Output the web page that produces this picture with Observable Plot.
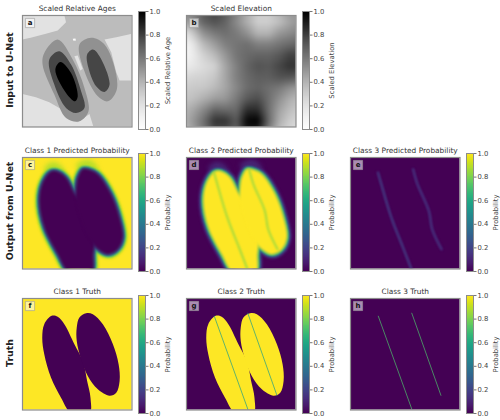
<!DOCTYPE html>
<html><head><meta charset="utf-8">
<script src="https://cdn.jsdelivr.net/npm/d3@7"></script>
<script src="https://cdn.jsdelivr.net/npm/@observablehq/plot@0.6"></script>
<style>
html,body{margin:0;background:#fff}
#root{position:relative;width:500px;height:420px;overflow:hidden;font-family:"DejaVu Sans",sans-serif}
#root>div,#root>svg{position:absolute}
.aa{filter:blur(.35px)}
.soft{filter:blur(.8px)}
.softer{filter:blur(1.1px)}
.smudge{filter:blur(2.5px)}
.terrain{filter:blur(2px)}
.row{font-weight:bold;font-size:9.4px;color:#222;white-space:nowrap;transform:translate(-50%,-50%) rotate(-90deg)}
</style></head><body><div id="root"></div>
<script>
// panel text
const titles = ["Scaled Relative Ages","Scaled Elevation","Class 1 Predicted Probability","Class 2 Predicted Probability","Class 3 Predicted Probability","Class 1 Truth","Class 2 Truth","Class 3 Truth"];
const letters = ["a","b","c","d","e","f","g","h"];
const rowLabels = ["Input to U-Net","Output from U-Net","Truth"];
const barLabels = ["Scaled Relative Age","Scaled Elevation","Probability"];
const barTicks = [0,0.2,0.4,0.6,0.8,1];

// panel a: contour bands (grid units of the panel, 327 x 334)
const ageLightTL = [[0,0],[125,0],[130,20],[105,45],[70,55],[30,65],[0,72]];
const ageLightBL = [[0,235],[40,245],[80,260],[115,280],[135,305],[165,320],[200,295],[212,334],[0,334]];
const ageLightR = [[245,72],[280,65],[327,55],[327,195],[290,195],[280,170],[265,110]];
const ageLeftOuter = [[65,112],[105,72],[150,132],[185,217],[197,287],[170,317],[130,307],[95,237],[60,147]];
const ageLeftDark = [[80,132],[110,107],[145,147],[175,227],[185,277],[160,292],[130,277],[95,207]];
const ageLeftCore = [[98,162],[113,139],[145,172],[165,242],[157,257],[130,232]];
const ageRightOuter = [[170,87],[205,67],[245,87],[280,177],[280,227],[255,257],[225,242],[185,167]];
const ageRightDark = [[193,117],[210,102],[230,122],[260,207],[245,229],[220,212],[197,157]];
const ageStrip = [[155,122],[165,120],[180,160],[172,165]];
const ageDot = [[150,70],[158,69],[160,75],[152,76]];

// panel b: elevation read on a 12 x 12 grid
const elevation = [
 .55,.6,.74,.8,.72,.58,.42,.3,.3,.4,.5,.5,
 .42,.52,.68,.74,.68,.54,.42,.3,.3,.36,.46,.52,
 .12,.32,.52,.6,.64,.6,.52,.4,.4,.5,.54,.58,
 .02,.17,.38,.48,.58,.62,.64,.58,.58,.62,.66,.68,
 .02,.14,.28,.38,.5,.62,.66,.68,.68,.72,.8,.78,
 .12,.17,.23,.28,.45,.58,.68,.74,.72,.78,.84,.82,
 .22,.27,.28,.33,.45,.58,.66,.7,.7,.74,.74,.68,
 .3,.32,.33,.38,.45,.55,.65,.68,.64,.6,.52,.47,
 .33,.36,.42,.48,.5,.6,.72,.76,.64,.52,.42,.36,
 .38,.45,.55,.68,.66,.66,.86,.86,.64,.46,.36,.3,
 .38,.5,.64,.84,.84,.72,.98,1,.66,.42,.3,.25,
 .35,.46,.6,.74,.74,.68,.9,.88,.56,.35,.25,.2];

// predicted blobs (panels c, d)
const predLeft = [[85,42],[60,75],[50,130],[65,210],[105,290],[140,345],[207,345],[212,290],[215,250],[205,200],[180,145],[157,110],[130,60],[105,42]];
const predRight = [[180,35],[165,60],[160,90],[160,130],[185,215],[205,250],[225,275],[255,290],[285,275],[300,240],[290,180],[265,110],[225,50],[195,35]];
const smudgeLeft = [[65,35],[85,15],[110,20],[125,45],[90,50]];
const smudgeRight = [[160,25],[180,10],[205,10],[225,35],[185,45]];
const haloWidths = [10,6.5,3.8,1.6];
const haloC = [.93,.72,.42,.15];
const haloD = [.07,.25,.55,.82];

// predicted faults (panels d, e)
const faultLeftPred = [[82,45],[92,80],[122,180],[157,270],[179,327],[184,340]];
const faultRightPred = [[187,35],[200,80],[234,160],[244,215],[272,275]];

// truth ellipses and faults (panels f, g, h)
const truthLeft = [[87,52],[65,77],[59,117],[65,167],[85,237],[115,297],[147,345],[200,345],[203,297],[193,247],[181,190],[155,137],[125,77],[105,55]];
const truthRight = [[190,44],[170,57],[162,87],[162,127],[175,182],[195,232],[225,272],[260,291],[280,282],[290,247],[287,197],[270,137],[240,77],[210,47]];
const faultLeft = [[83,53],[184,334]];
const faultRight = [[183,44],[270,290]];

const root = document.getElementById("root");
const greys = {type:"linear",scheme:"greys",domain:[0,1]};
const viridis = {type:"linear",scheme:"viridis",domain:[0,1]};
const X = d=>d[0], Y = d=>d[1];

const bg = v => Plot.rect([v],{x1:0,x2:327,y1:0,y2:334,fill:d=>d});
const blob = (ring,v,cls="aa") => Plot.line(ring,{x:X,y:Y,fill:()=>v,stroke:"none",curve:"catmull-rom-closed",clip:true,className:cls});
const poly = (ring,v) => Plot.line(ring,{x:X,y:Y,fill:()=>v,stroke:"none",curve:"linear-closed",clip:true,className:"aa"});
const halo = (ring,w,v,cls) => Plot.line(ring,{x:X,y:Y,stroke:()=>v,strokeWidth:w,curve:"catmull-rom-closed",clip:true,className:cls});
const fault = (pts,v,w,cls="aa",op=1) => Plot.line(pts,{x:X,y:Y,stroke:()=>v,strokeWidth:w,strokeOpacity:op,clip:true,curve:"catmull-rom",className:cls});

function panel(i,left,top,w,h,color,marks){
  const mt=13;
  const p=Plot.plot({width:w,height:h+mt,marginTop:mt,marginLeft:0,marginRight:0,marginBottom:0,
    x:{domain:[0,327],axis:null},y:{domain:[334,0],axis:null},color,
    style:{background:"transparent",overflow:"visible",fontFamily:"DejaVu Sans",fontSize:"7.4px"},
    marks:[...marks,
      Plot.frame({stroke:"#8c8c8c",strokeWidth:1.2}),
      Plot.dot([0],{frameAnchor:"top-left",dx:7.5,dy:7.5,symbol:"square",r:5.2,fill:"white",fillOpacity:.55,stroke:"#999",strokeWidth:.6}),
      Plot.text([letters[i]],{frameAnchor:"top-left",dx:7.5,dy:7.5,fontWeight:"bold",fontSize:7,fill:"#111",textAnchor:"middle",lineAnchor:"middle"}),
      Plot.text([titles[i]],{frameAnchor:"top",dy:-6.5,fontSize:7.4,fill:"#333",lineAnchor:"middle"})
    ]});
  p.style.left=left+"px";p.style.top=(top-mt)+"px";root.appendChild(p);
}
function colorbar(left,top,h,color,label){
  const w=7;
  const p=Plot.plot({width:w+35,height:h,marginTop:0,marginBottom:0,marginLeft:0,marginRight:35,
    x:{domain:[0,1],axis:null},y:{domain:[0,1]},color,
    style:{background:"transparent",overflow:"visible",fontFamily:"DejaVu Sans",fontSize:"6.8px"},
    marks:[
      Plot.raster({x1:0,x2:1,y1:0,y2:1,width:1,height:120,fill:(x,y)=>y}),
      Plot.frame({stroke:"#8c8c8c",strokeWidth:1}),
      Plot.axisY({anchor:"right",ticks:barTicks,tickFormat:d3.format(".1f"),tickSize:2.5,tickPadding:1.5,stroke:"#777",fill:"#444",
        label,labelAnchor:"center",labelArrow:"none",labelOffset:24,fontSize:6.8})
    ]});
  p.style.left=left+"px";p.style.top=top+"px";root.appendChild(p);
}

const colA=22, colB=185.5, colC=349.5, W=109.5;
const rowY=[14.5,157,298], H=111.5;
const barX=[138,302,466], barTop=[11,153,294.5], barH=118;

// a
panel(0,colA,rowY[0],W,H,greys,[bg(.37),poly(ageLightTL,.2),poly(ageLightBL,.2),poly(ageLightR,.2),
  blob(ageLeftOuter,.52),blob(ageRightOuter,.52),poly(ageStrip,.2),poly(ageDot,.05),
  blob(ageLeftDark,.78),blob(ageRightDark,.78),blob(ageLeftCore,1)]);
colorbar(barX[0],barTop[0],barH,greys,barLabels[0]);
// b
panel(1,colB,rowY[0],W,H,greys,[bg(.5),Plot.raster(elevation,{width:12,height:12,x1:-30,x2:357,y1:-30,y2:364,imageRendering:"auto",clip:true,className:"terrain"})]);
colorbar(barX[1],barTop[0],barH,greys,barLabels[1]);
// c
panel(2,colA,rowY[1],W,H,viridis,[bg(1),
  blob(smudgeLeft,.88,"smudge"),blob(smudgeRight,.88,"smudge"),
  ...haloWidths.flatMap((w,k)=>[halo(predLeft,w,haloC[k],"soft"),halo(predRight,w,haloC[k],"soft")]),
  blob(predLeft,0,"soft"),blob(predRight,0,"soft")]);
colorbar(barX[0],barTop[1],barH,viridis,barLabels[2]);
// d
panel(3,colB,rowY[1],W,H,viridis,[bg(0),
  blob(smudgeLeft,.12,"smudge"),blob(smudgeRight,.12,"smudge"),
  ...haloWidths.flatMap((w,k)=>[halo(predLeft,w,haloD[k],"soft"),halo(predRight,w,haloD[k],"soft")]),
  blob(predLeft,1,"soft"),blob(predRight,1,"soft"),
  fault(faultLeftPred,.84,1.7,"softer"),fault(faultRightPred,.84,1.7,"softer")]);
colorbar(barX[1],barTop[1],barH,viridis,barLabels[2]);
// e
panel(4,colC,rowY[1],W,H,viridis,[bg(0),
  fault(faultLeftPred,.1,2.4,"softer"),fault(faultRightPred,.1,2.4,"softer"),
  fault(faultLeftPred,.24,.9,"soft"),fault(faultRightPred,.18,.9,"soft")]);
colorbar(barX[2],barTop[1],barH,viridis,barLabels[2]);
// f
panel(5,colA,rowY[2],W,H,viridis,[bg(1),blob(truthLeft,0),blob(truthRight,0)]);
colorbar(barX[0],barTop[2],barH,viridis,barLabels[2]);
// g
panel(6,colB,rowY[2],W,H,viridis,[bg(0),blob(truthLeft,1),blob(truthRight,1),fault(faultLeft,.55,.7),fault(faultRight,.55,.7)]);
colorbar(barX[1],barTop[2],barH,viridis,barLabels[2]);
// h
panel(7,colC,rowY[2],W,H,viridis,[bg(0),fault(faultLeft,.72,.7),fault(faultRight,.72,.7)]);
colorbar(barX[2],barTop[2],barH,viridis,barLabels[2]);

rowLabels.forEach((t,i)=>{
  const d=document.createElement("div");d.className="row";d.textContent=t;
  d.style.left="9px";d.style.top=[70,211,353][i]+"px";root.appendChild(d);
});
</script></body></html>
